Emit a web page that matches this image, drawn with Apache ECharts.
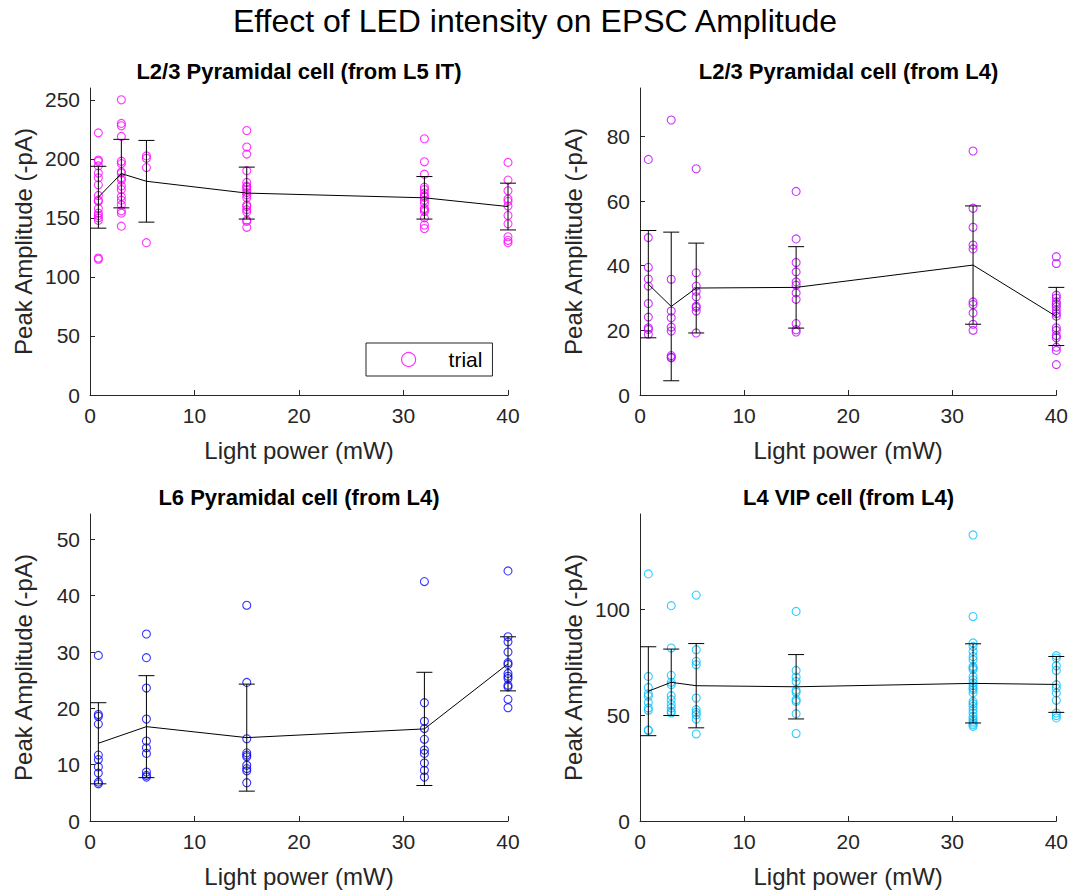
<!DOCTYPE html>
<html>
<head>
<meta charset="utf-8">
<script src="https://cdn.jsdelivr.net/npm/echarts@6/dist/echarts.min.js"></script>
<style>html,body{margin:0;padding:0;background:#fff}#chart{width:1071px;height:893px}</style>
</head>
<body>
<div id="chart"></div>
<script>
// ---------- DATA ----------
const mainTitle = 'Effect of LED intensity on EPSC Amplitude';
const panelTitles = ['L2/3 Pyramidal cell (from L5 IT)', 'L2/3 Pyramidal cell (from L4)', 'L6 Pyramidal cell (from L4)', 'L4 VIP cell (from L4)'];
const xName = 'Light power (mW)';
const yName = 'Peak Amplitude (-pA)';
const xTicks = [0, 10, 20, 30, 40];

// Panel 1: L2/3 Pyr (from L5 IT)
const p1X = [0.8, 3, 5.4, 15, 32, 40];
const p1Trials = [
  [222, 199, 198, 194, 188, 184, 178, 169, 165, 164, 158, 154, 152, 150, 148, 116, 115],
  [250, 230, 228, 219, 198, 196, 189, 188, 184, 182, 177, 174, 168, 165, 161, 156, 154, 143],
  [202.5, 200.5, 192.6, 129],
  [224, 210, 204, 190, 180, 177, 176, 174, 171.5, 169.5, 167, 161, 159.6, 157, 155, 148, 147, 142],
  [217, 197.5, 187, 176, 174, 171, 168.6, 167.5, 165, 162.4, 158, 157, 155.4, 150, 144, 141],
  [197, 182, 173, 166, 164, 160, 152, 145, 134, 131, 129]
];
const p1Mean = [167.5, 187.5, 181, 171, 167, 159.6];
const p1Sd = [26.2, 29, 34.6, 22, 18, 19.8];
const p1YTicks = [0, 50, 100, 150, 200, 250];

// Panel 2: L2/3 Pyr (from L4)
const p2X = [0.8, 3, 5.4, 15, 32, 40];
const p2Trials = [
  [72.9, 48.7, 39.5, 35.9, 33.7, 28.3, 24.1, 20.8, 20.3, 18.8],
  [85.1, 35.8, 26, 23.9, 21, 19.8, 12.2, 11.7, 11.5],
  [70, 37.8, 33.7, 32.1, 30.4, 27.5, 27.1, 26, 19.2],
  [63, 48.3, 41, 38.1, 35, 34, 31.6, 29.6, 22.1, 20.2, 19.5],
  [75.5, 57.8, 51.9, 46.4, 45.2, 28.8, 28, 25.4, 21.9, 20],
  [42.8, 40.7, 30.9, 30, 28.8, 28.1, 27.3, 26.2, 25.2, 24.4, 20.8, 20, 18.4, 17.7, 14.8, 13.8, 9.4]
];
const p2Mean = [34.3, 27.4, 33.1, 33.3, 40.2, 24.3];
const p2Sd = [16.6, 23, 13.9, 12.6, 18.3, 9];
const p2YTicks = [0, 20, 40, 60, 80];

// Panel 3: L6 Pyr (from L4)
const p3X = [0.8, 5.4, 15, 32, 40];
const p3Trials = [
  [29.4, 18.9, 18.6, 17.2, 11.7, 10.9, 9.6, 8.5, 6.9, 6.6],
  [33.2, 29, 23.6, 18.1, 14.2, 13, 12, 8.7, 8.1, 7.8],
  [38.3, 24.6, 14.6, 12.1, 11.7, 11.4, 9.9, 9.3, 8.9, 6.8],
  [42.5, 21, 17.7, 16.4, 14.5, 12.6, 12, 10.3, 9, 7.8],
  [44.4, 32.7, 31.8, 30, 28.1, 27.8, 26.2, 25.7, 25.3, 24.1, 23.8, 21.6, 20.1]
];
const p3Mean = [13.8, 16.75, 14.8, 16.35, 27.9];
const p3Sd = [7.2, 9.05, 9.5, 10.05, 4.8];
const p3YTicks = [0, 10, 20, 30, 40, 50];

// Panel 4: L4 VIP (from L4)
const p4X = [0.8, 3, 5.4, 15, 32, 40];
const p4Trials = [
  [116.7, 68.3, 63.1, 60.1, 58.9, 56, 53.4, 52.3, 43, 42.7],
  [101.7, 81.7, 68.8, 65.5, 64.4, 59.2, 57.3, 55, 53.4, 51.8, 51],
  [106.7, 80.9, 75.4, 73.8, 58.1, 52.6, 51.3, 50.2, 48.2, 41.1],
  [99, 71.1, 68, 65.9, 61.7, 60.8, 57.3, 56.5, 50.7, 41.3],
  [135.1, 96.6, 84.1, 82.5, 80.1, 77.7, 76.2, 73, 72.3, 71.5, 68.3, 66.7, 65.2, 64, 62.8, 62, 60.5, 56.5, 55.4, 54.2, 52.6, 51, 49.4, 48.2, 47.1, 46.3, 45.5, 44.7],
  [78.1, 77, 73.3, 71.1, 64.4, 62.8, 60.5, 57, 51, 49.8, 48.7]
];
const p4Mean = [61.3, 65.5, 63.9, 63.4, 65, 64.5];
const p4Sd = [21, 15.7, 19.9, 15.2, 18.7, 13.2];
const p4YTicks = [0, 50, 100];

// ---------- BUILD ----------
const FONT = '"Liberation Sans", Arial, Helvetica, sans-serif';
const AX = '#262626';
const panels = [
  {x: p1X, trials: p1Trials, mean: p1Mean, sd: p1Sd, ticks: p1YTicks, ymax: 260, color: '#FF00FF', name: 'trial',
   grid: {left: 90, top: 88, width: 418, height: 307}, title: panelTitles[0]},
  {x: p2X, trials: p2Trials, mean: p2Mean, sd: p2Sd, ticks: p2YTicks, ymax: 95, color: '#C000FF', name: 'trial2',
   grid: {left: 640, top: 88, width: 417, height: 307}, title: panelTitles[1]},
  {x: p3X, trials: p3Trials, mean: p3Mean, sd: p3Sd, ticks: p3YTicks, ymax: 54.5, color: '#0000FF', name: 'trial3',
   grid: {left: 90, top: 514, width: 418, height: 307}, title: panelTitles[2]},
  {x: p4X, trials: p4Trials, mean: p4Mean, sd: p4Sd, ticks: p4YTicks, ymax: 145, color: '#00BFFF', name: 'trial4',
   grid: {left: 640, top: 514, width: 417, height: 307}, title: panelTitles[3]}
];

const grids = [], xAxes = [], yAxes = [], series = [];
const titles = [{text: mainTitle, left: 535, top: 5, textAlign: 'center', padding: 0,
  textStyle: {fontFamily: FONT, fontSize: 32, fontWeight: 'normal', color: '#000'}}];

panels.forEach((p, i) => {
  grids.push(Object.assign({containLabel: false}, p.grid));
  titles.push({text: p.title, left: p.grid.left + p.grid.width / 2, top: p.grid.top - 28, textAlign: 'center', padding: 0,
    textStyle: {fontFamily: FONT, fontSize: 22, fontWeight: 'bold', color: '#000'}});
  xAxes.push({
    type: 'value', gridIndex: i, min: 0, max: 40, interval: 10,
    name: xName, nameLocation: 'middle', nameGap: 43,
    nameTextStyle: {fontFamily: FONT, fontSize: 24, color: AX},
    axisLine: {show: true, onZero: false, lineStyle: {color: AX, width: 1}},
    axisTick: {show: true, inside: true, length: 5, lineStyle: {color: AX}, customValues: xTicks},
    axisLabel: {fontFamily: FONT, fontSize: 21, color: AX, margin: 10, customValues: xTicks},
    splitLine: {show: false}
  });
  yAxes.push({
    type: 'value', gridIndex: i, min: 0, max: p.ymax,
    name: yName, nameLocation: 'middle', nameGap: 55,
    nameTextStyle: {fontFamily: FONT, fontSize: 24, color: AX},
    axisLine: {show: true, onZero: false, lineStyle: {color: AX, width: 1}},
    axisTick: {show: true, inside: true, length: 5, lineStyle: {color: AX}, customValues: p.ticks},
    axisLabel: {fontFamily: FONT, fontSize: 21, color: AX, margin: 10, customValues: p.ticks},
    splitLine: {show: false}
  });
  const pts = [];
  p.trials.forEach((arr, k) => arr.forEach(v => pts.push([p.x[k], v])));
  series.push({
    type: 'scatter', name: p.name, xAxisIndex: i, yAxisIndex: i, data: pts,
    symbol: 'circle', symbolSize: 8, clip: false, silent: true,
    itemStyle: {color: 'rgba(255,255,255,0)', borderColor: p.color, borderWidth: 1.1}, z: 2
  });
  series.push({
    type: 'line', name: 'mean' + i, xAxisIndex: i, yAxisIndex: i,
    data: p.x.map((x, k) => [x, p.mean[k]]), symbol: 'none', silent: true,
    lineStyle: {color: '#000', width: 1}, z: 3
  });
  series.push({
    type: 'custom', name: 'sd' + i, xAxisIndex: i, yAxisIndex: i, silent: true, z: 4,
    data: p.x.map((x, k) => [x, p.mean[k], p.sd[k]]),
    renderItem: (params, api) => {
      const x = api.value(0), m = api.value(1), s = api.value(2);
      const top = api.coord([x, m + s]);
      const bot = api.coord([x, m - s]);
      const hw = 8;
      const st = {stroke: '#000', lineWidth: 1};
      return {type: 'group', children: [
        {type: 'line', shape: {x1: top[0], y1: top[1], x2: bot[0], y2: bot[1]}, style: st},
        {type: 'line', shape: {x1: top[0] - hw, y1: top[1], x2: top[0] + hw, y2: top[1]}, style: st},
        {type: 'line', shape: {x1: bot[0] - hw, y1: bot[1], x2: bot[0] + hw, y2: bot[1]}, style: st}
      ]};
    }
  });
});

const chart = echarts.init(document.getElementById('chart'), null, {renderer: 'svg'});
chart.setOption({
  animation: false,
  backgroundColor: '#fff',
  title: titles,
  grid: grids,
  xAxis: xAxes,
  yAxis: yAxes,
  legend: {
    data: [{name: 'trial', icon: 'circle', itemStyle: {color: 'rgba(255,255,255,0)', borderColor: '#FF00FF', borderWidth: 1.2}}],
    left: 366, top: 343, orient: 'vertical',
    itemWidth: 14, itemHeight: 14,
    padding: [6, 10, 6, 35],
    borderColor: AX, borderWidth: 1, backgroundColor: '#fff',
    selectedMode: false,
    textStyle: {fontFamily: FONT, fontSize: 21, color: '#000', padding: [0, 0, 0, 28], lineHeight: 21}
  },
  series: series
});
</script>
</body>
</html>
